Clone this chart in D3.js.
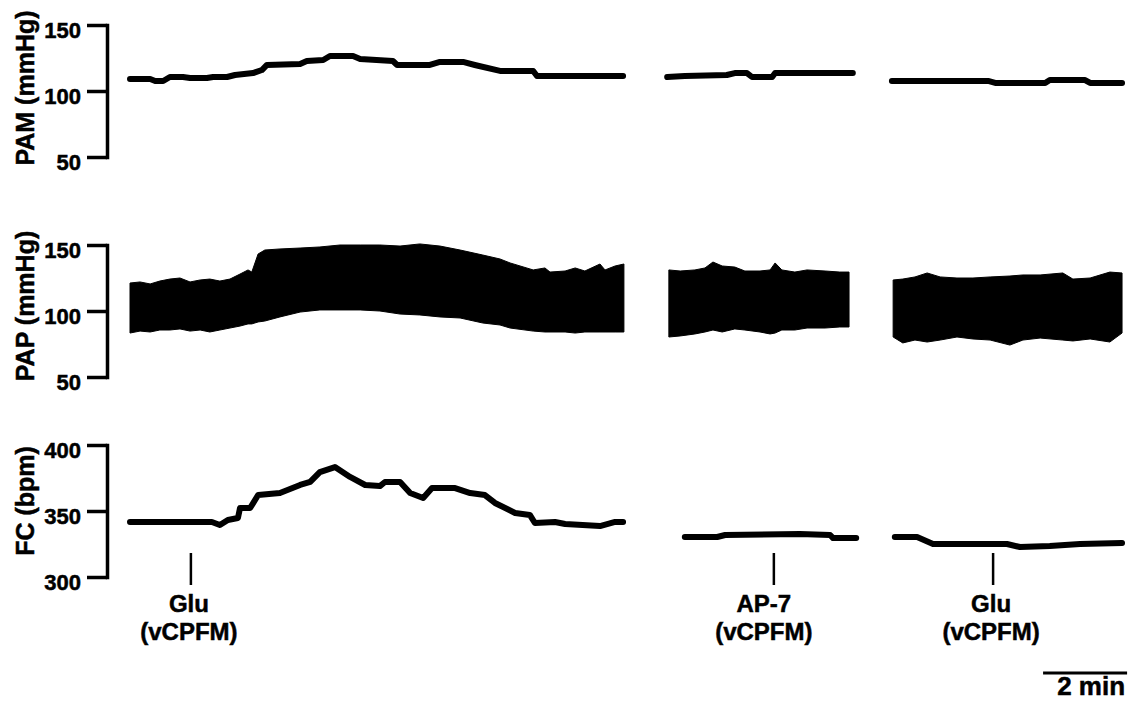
<!DOCTYPE html>
<html>
<head>
<meta charset="utf-8">
<script src="https://cdn.jsdelivr.net/npm/d3@7"></script>
<style>
body { margin: 0; background: #fff; }
text { font-family: "Liberation Sans", Arial, Helvetica, sans-serif; font-weight: bold; fill: #000; stroke: #000; stroke-width: 0.5px; }
</style>
</head>
<body>
<div id="mainvis"></div>
<script>
// time in minutes, values in mmHg / bpm

// PAM (mean arterial pressure) [t, value]
let pamSeg1 = [[0, 109.1], [0.48, 109.1], [0.60, 107.6], [0.79, 107.6], [0.95, 110.6], [1.26, 110.6],
    [1.43, 109.8], [1.83, 109.8], [1.98, 110.6], [2.31, 110.6], [2.50, 112.1], [2.93, 113.6],
    [3.14, 115.9], [3.26, 119.7], [4.05, 120.5], [4.21, 122.7], [4.60, 123.5], [4.76, 126.5],
    [5.31, 126.5], [5.48, 124.2], [6.26, 122.7], [6.36, 119.7], [7.14, 119.7], [7.38, 122.0],
    [7.93, 122.0], [8.21, 119.7], [8.81, 115.2], [9.60, 115.2], [9.69, 111.4], [11.74, 111.4]];
let pamSeg2 = [[12.79, 110.6], [13.21, 111.4], [14.21, 112.1], [14.40, 113.6], [14.69, 113.6],
    [14.81, 110.6], [15.29, 110.6], [15.36, 113.6], [17.21, 113.6]];
let pamSeg3 = [[18.14, 107.6], [20.43, 107.6], [20.60, 106.1], [21.79, 106.1], [21.90, 108.3],
    [22.74, 108.3], [22.86, 106.1], [23.62, 106.1]];

// PAP (pulsatile arterial pressure) [t, diastolic, systolic]
let papSeg1 = [[0, 83.3, 121.2], [0.24, 84.8, 122.0], [0.48, 84.1, 120.5], [0.71, 85.6, 122.7],
    [0.95, 85.6, 124.2], [1.19, 86.4, 125.0], [1.43, 84.8, 122.0], [1.67, 85.6, 123.5],
    [1.90, 84.1, 124.2], [2.14, 85.6, 122.7], [2.38, 87.1, 124.2], [2.62, 88.6, 128.0],
    [2.81, 90.2, 131.1], [2.90, 90.2, 129.5], [3.05, 91.7, 143.2], [3.21, 92.4, 146.2],
    [3.57, 95.5, 147.0], [4.05, 99.2, 147.7], [4.52, 100.8, 148.5], [5.00, 100.8, 150.0],
    [5.48, 100.8, 150.0], [5.95, 100.0, 150.0], [6.43, 97.7, 149.2], [6.90, 97.0, 150.8],
    [7.38, 95.5, 149.2], [7.86, 94.7, 146.2], [8.40, 90.9, 142.4], [8.81, 89.4, 139.4],
    [9.05, 87.1, 136.4], [9.60, 84.8, 131.1], [9.88, 84.1, 132.6], [10.00, 84.1, 129.5],
    [10.36, 84.1, 130.3], [10.60, 83.3, 132.6], [10.83, 84.1, 130.3], [11.19, 84.1, 135.6],
    [11.31, 84.1, 131.1], [11.55, 84.1, 134.1], [11.76, 84.1, 135.6]];
let papSeg2 = [[12.83, 80.3, 131.1], [13.10, 81.1, 130.3], [13.45, 82.6, 131.1], [13.69, 84.1, 132.6],
    [13.88, 85.6, 137.1], [14.10, 84.1, 134.1], [14.40, 86.4, 133.3], [14.64, 85.6, 130.3],
    [15.00, 84.1, 130.3], [15.24, 82.6, 131.1], [15.36, 83.3, 136.4], [15.52, 85.6, 131.1],
    [15.83, 85.6, 129.5], [16.12, 87.1, 131.1], [16.55, 87.1, 130.3], [16.90, 87.9, 129.5],
    [17.12, 87.9, 129.5]];
let papSeg3 = [[18.17, 80.3, 123.5], [18.40, 75.8, 124.2], [18.69, 78.0, 125.8], [18.98, 76.5, 128.8],
    [19.29, 78.0, 125.8], [19.69, 80.3, 125.0], [20.07, 78.8, 125.0], [20.48, 78.0, 125.8],
    [20.95, 74.2, 126.5], [21.26, 78.0, 127.3], [21.67, 79.5, 127.3], [22.21, 78.0, 128.8],
    [22.45, 77.3, 124.2], [22.86, 78.8, 125.0], [23.33, 76.5, 129.5], [23.62, 83.3, 128.8]];

// FC (heart rate) [t, bpm]
let fcSeg1 = [[0, 341.7], [1.95, 341.7], [2.14, 339.4], [2.33, 343.2], [2.57, 344.7], [2.62, 352.3],
    [2.86, 352.3], [3.05, 362.1], [3.57, 363.6], [4.05, 369.7], [4.29, 372.0], [4.52, 379.5],
    [4.88, 383.3], [5.24, 375.8], [5.60, 369.7], [5.95, 368.9], [6.07, 372.0], [6.43, 372.0],
    [6.67, 363.6], [6.98, 359.8], [7.19, 367.4], [7.74, 367.4], [8.10, 363.6], [8.45, 362.1],
    [8.69, 356.1], [9.17, 348.5], [9.52, 347.0], [9.64, 340.9], [10.12, 341.7], [10.36, 340.2],
    [11.19, 338.6], [11.55, 341.7], [11.74, 341.7]];
let fcSeg2 = [[13.21, 330.3], [13.98, 330.3], [14.17, 331.8], [15.95, 332.6], [16.67, 331.8],
    [16.74, 329.5], [17.29, 329.5]];
let fcSeg3 = [[18.21, 330.3], [18.74, 330.3], [19.12, 325.0], [20.88, 325.0], [21.19, 322.7],
    [21.90, 323.5], [22.62, 325.0], [23.62, 325.8]];

let eventTimes = [1.45, 15.33, 20.55];
let eventDrugs = ["Glu", "AP-7", "Glu"];
let eventSite = "(vCPFM)";
let scaleBarMin = 2;

let svg = d3.select("#mainvis")
    .append("svg")
    .attr("width", 1128)
    .attr("height", 701);

let xScale = d3.scaleLinear()
    .domain([0, 24])
    .range([130, 1138]);

let axisX = 107;

let panels = [
    {title: "PAM (mmHg)", domain: [50, 150], range: [157, 25], ticks: [50, 100, 150], titleY: 88},
    {title: "PAP (mmHg)", domain: [50, 150], range: [377, 245], ticks: [50, 100, 150], titleY: 306},
    {title: "FC (bpm)", domain: [300, 400], range: [577, 445], ticks: [300, 350, 400], titleY: 501}
];

panels.forEach(function(p) {
    p.y = d3.scaleLinear().domain(p.domain).range(p.range);

    let g = svg.append("g")
        .attr("transform", "translate(" + axisX + ",0)")
        .call(d3.axisLeft(p.y)
            .tickValues(p.ticks)
            .tickSize(20)
            .tickSizeOuter(0)
            .tickPadding(6));

    g.select(".domain")
        .attr("stroke", "#000")
        .attr("stroke-width", 3.5)
        .attr("stroke-linecap", "square");
    g.selectAll(".tick line")
        .attr("stroke", "#000")
        .attr("stroke-width", 3.5);
    g.selectAll(".tick text")
        .attr("dy", "0.55em")
        .style("font-size", "22px");

    svg.append("text")
        .attr("transform", "translate(34," + p.titleY + ") rotate(-90)")
        .attr("text-anchor", "middle")
        .style("font-size", "25px")
        .text(p.title);
});

// mean traces
function drawLine(segs, yScale) {
    let line = d3.line()
        .x(d => xScale(d[0]))
        .y(d => yScale(d[1]));

    segs.forEach(function(s) {
        svg.append("path")
            .datum(s)
            .attr("d", line)
            .attr("fill", "none")
            .attr("stroke", "#000")
            .attr("stroke-width", 6)
            .attr("stroke-linejoin", "round")
            .attr("stroke-linecap", "round");
    });
}

drawLine([pamSeg1, pamSeg2, pamSeg3], panels[0].y);
drawLine([fcSeg1, fcSeg2, fcSeg3], panels[2].y);

// pulsatile pressure as filled band
let papArea = d3.area()
    .x(d => xScale(d[0]))
    .y0(d => panels[1].y(d[1]))
    .y1(d => panels[1].y(d[2]));

[papSeg1, papSeg2, papSeg3].forEach(function(s) {
    svg.append("path")
        .datum(s)
        .attr("d", papArea)
        .attr("fill", "#000")
        .attr("stroke", "#000")
        .attr("stroke-width", 1);
});

// injection markers
let labelShift = [-2, -10, -2];
eventTimes.forEach(function(t, i) {
    let x = xScale(t);
    svg.append("line")
        .attr("x1", x).attr("x2", x)
        .attr("y1", 553).attr("y2", 585)
        .attr("stroke", "#000")
        .attr("stroke-width", 2.5);

    svg.append("text")
        .attr("x", x + labelShift[i])
        .attr("y", 612)
        .attr("text-anchor", "middle")
        .style("font-size", "24px")
        .text(eventDrugs[i]);

    svg.append("text")
        .attr("x", x + labelShift[i])
        .attr("y", 640)
        .attr("text-anchor", "middle")
        .style("font-size", "24px")
        .text(eventSite);
});

// time scale bar
let barEnd = 23.74;
svg.append("line")
    .attr("x1", xScale(barEnd - scaleBarMin))
    .attr("x2", xScale(barEnd))
    .attr("y1", 673).attr("y2", 673)
    .attr("stroke", "#000")
    .attr("stroke-width", 3);

svg.append("text")
    .attr("x", xScale(barEnd) - 2)
    .attr("y", 695)
    .attr("text-anchor", "end")
    .style("font-size", "26px")
    .text(scaleBarMin + " min");
</script>
</body>
</html>
